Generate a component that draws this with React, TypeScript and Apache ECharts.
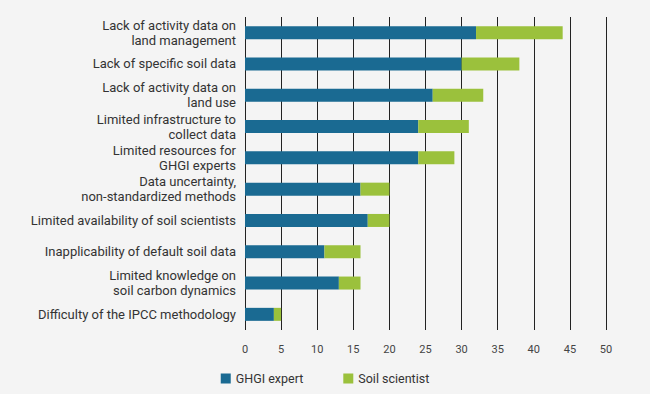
import React, { useEffect, useRef } from "react";
import * as echarts from "echarts";

const categories = [
  "Lack of activity data on\nland management",
  "Lack of specific soil data",
  "Lack of activity data on\nland use",
  "Limited infrastructure to\ncollect data",
  "Limited resources for\nGHGI experts",
  "Data uncertainty,\nnon-standardized methods",
  "Limited availability of soil scientists",
  "Inapplicability of default soil data",
  "Limited knowledge on\nsoil carbon dynamics",
  "Difficulty of the IPCC methodology",
];
const ghgiExpert = [32, 30, 26, 24, 24, 16, 17, 11, 13, 4];
const soilScientist = [12, 8, 7, 7, 5, 4, 3, 5, 3, 1];

export default function App() {
  const ref = useRef<HTMLDivElement>(null);
  useEffect(() => {
    if (!ref.current) return;
    const chart = echarts.init(ref.current, undefined, { renderer: "svg" });
    chart.setOption({
      animation: false,
      backgroundColor: "#f4f4f4",
      textStyle: { fontFamily: "Roboto" },
      grid: { left: 245, right: 44, top: 17, bottom: 64, containLabel: false },
      legend: {
        bottom: 4,
        left: "center",
        icon: "rect",
        itemWidth: 10,
        itemHeight: 10,
        itemGap: 40,
        textStyle: { color: "#333", fontSize: 12.5, fontFamily: "Roboto" },
        data: ["GHGI expert", "Soil scientist"],
      },
      xAxis: {
        type: "value",
        min: 0,
        max: 50,
        interval: 5,
        axisLine: { show: false },
        axisTick: { show: false },
        axisLabel: { color: "#444", fontSize: 11, margin: 14 },
        splitLine: { show: true, lineStyle: { color: "#222", width: 1 } },
      },
      yAxis: {
        type: "category",
        inverse: true,
        data: categories,
        axisLine: { show: false },
        axisTick: { show: false },
        axisLabel: { color: "#333", fontSize: 13, lineHeight: 15, margin: 9 },
      },
      series: [
        {
          name: "GHGI expert",
          type: "bar",
          stack: "total",
          barWidth: 13,
          itemStyle: { color: "#1a6a92" },
          data: ghgiExpert,
        },
        {
          name: "Soil scientist",
          type: "bar",
          stack: "total",
          barWidth: 13,
          itemStyle: { color: "#9bc13c" },
          data: soilScientist,
        },
      ],
    });
    return () => chart.dispose();
  }, []);
  return <div ref={ref} style={{ width: 650, height: 394, position: "absolute", left: 0, top: 0 }} />;
}
